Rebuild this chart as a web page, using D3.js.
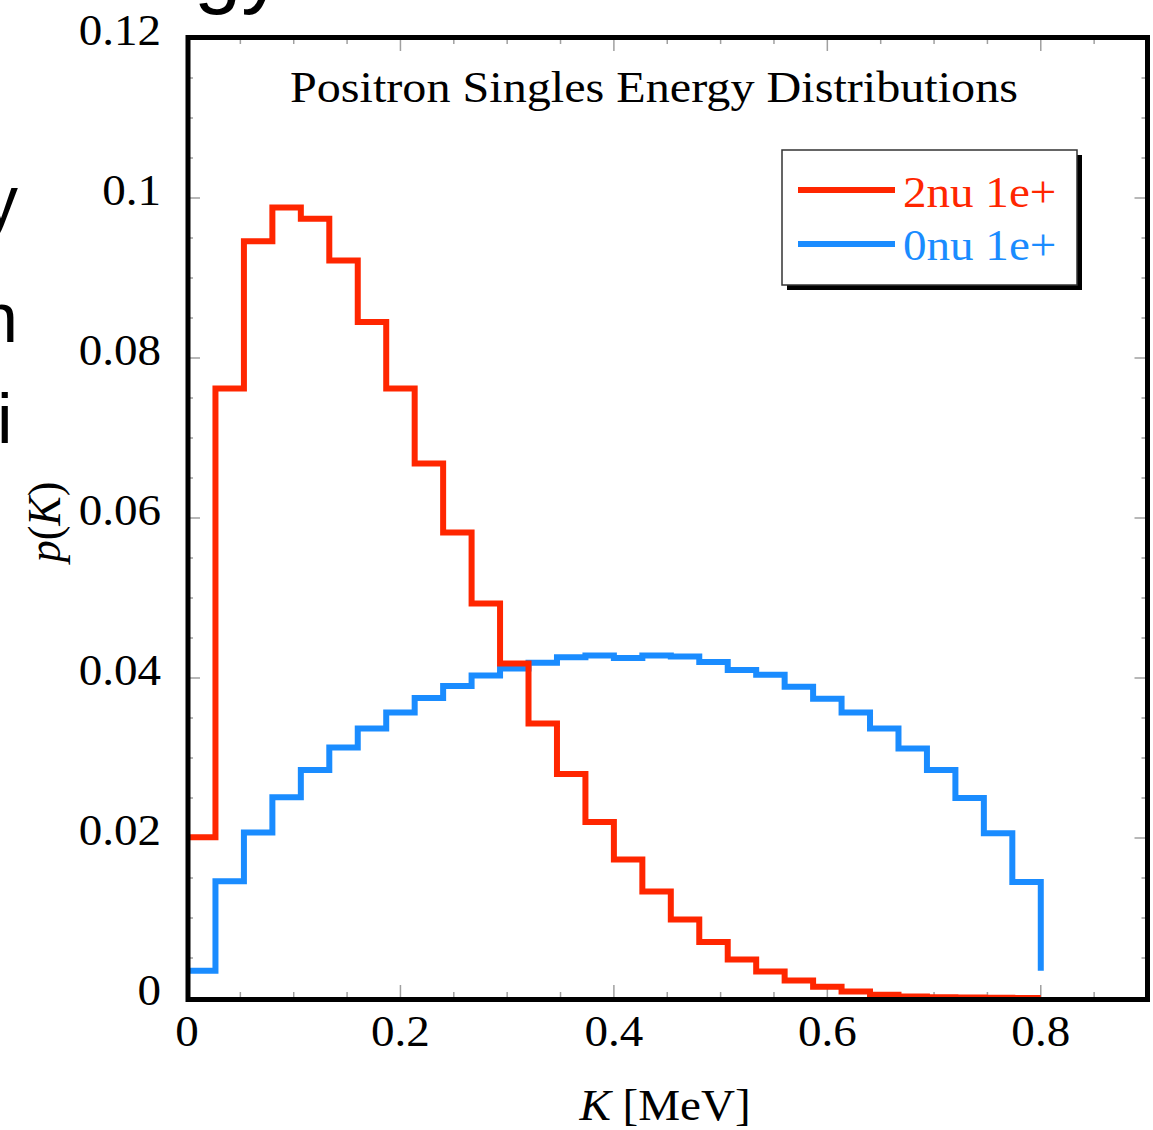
<!DOCTYPE html>
<html>
<head>
<meta charset="utf-8">
<script src="https://cdn.jsdelivr.net/npm/d3@7"></script>
<style>
  body { margin: 0; background: #fff; }
  svg { display: block; }
  .serif { font-family: "Liberation Serif", "Times New Roman", serif; }
</style>
</head>
<body>
<script>
// Positron singles energy histograms
var binCount = 30,
    kMax = 0.8;
// 2nu 1e+ , value per bin
var redValues = [0.0201, 0.0762, 0.0946, 0.0988, 0.0974, 0.0922, 0.0845, 0.0762, 0.0668, 0.0582,
                 0.0493, 0.0418, 0.0343, 0.0280, 0.0220, 0.0173, 0.0133, 0.0098, 0.0070, 0.0048,
                 0.0033, 0.0022, 0.0014, 0.0008, 0.0004, 0.0002, 0.0001, 0.00005, 0.00002, 0.0];
var redTail = 0.0;
// 0nu 1e+
var blueValues = [0.0034, 0.0146, 0.0207, 0.0251, 0.0285, 0.0313, 0.0337, 0.0357, 0.0375, 0.0390,
                  0.0403, 0.0412, 0.0419, 0.0426, 0.0428, 0.0425, 0.0428, 0.0427, 0.0420, 0.0410,
                  0.0404, 0.0389, 0.0374, 0.0357, 0.0337, 0.0312, 0.0285, 0.0250, 0.0206, 0.0145];
var blueTail = 0.0034;
var seriesNames = ["2nu 1e+", "0nu 1e+"];
var seriesColors = ["#ff2600", "#1a8cff"];
var xTickLabels = [0, 0.2, 0.4, 0.6, 0.8];
var yTickLabels = [0, 0.02, 0.04, 0.06, 0.08, 0.1, 0.12];

var width = 1153, height = 1130;
var stretch = 1.07; // the picture is a bit wider than tall

var svg = d3.select("body").append("svg")
  .attr("width", width)
  .attr("height", height);

var x = d3.scaleLinear().domain([0, 0.9]).range([187, 1147.5]);
var y = d3.scaleLinear().domain([0, 0.12]).range([998, 38]);

// clipped slide text around the figure
var frag = svg.append("g")
  .style("font-family", "'Liberation Sans', Arial, sans-serif")
  .attr("fill", "#000");
frag.append("text").attr("x", 194).attr("y", -3).style("font-size", "85px").text("gy");
frag.append("text").attr("x", -17).attr("y", 225).style("font-size", "70px").text("y");
frag.append("text").attr("x", -21).attr("y", 342).style("font-size", "70px").text("n");
frag.append("text").attr("x", -3).attr("y", 443).style("font-size", "70px").text("i");

// ticks (inside, on all four sides)
var ticks = svg.append("g").attr("stroke", "#a0a0a0").attr("stroke-width", 1.5);
var xMinor = d3.range(0, 0.9001, 0.05);
xMinor.forEach(function(v){
  var major = Math.abs(v / 0.2 - Math.round(v / 0.2)) < 1e-6;
  var len = major ? 13 : 6;
  ticks.append("line").attr("x1", x(v)).attr("x2", x(v)).attr("y1", y(0)).attr("y2", y(0) - len);
  ticks.append("line").attr("x1", x(v)).attr("x2", x(v)).attr("y1", y(0.12)).attr("y2", y(0.12) + len);
});
var yMinor = d3.range(0, 0.12001, 0.005);
yMinor.forEach(function(v){
  var major = Math.abs(v / 0.02 - Math.round(v / 0.02)) < 1e-6;
  var len = major ? 13 : 6;
  ticks.append("line").attr("y1", y(v)).attr("y2", y(v)).attr("x1", x(0)).attr("x2", x(0) + len);
  ticks.append("line").attr("y1", y(v)).attr("y2", y(v)).attr("x1", x(0.9)).attr("x2", x(0.9) - len);
});

// step histograms
var binWidth = kMax / binCount;
function stepPoints(values, tail){
  var pts = values.map(function(v, i){ return [i * binWidth, v]; });
  pts.push([kMax, tail]);
  return pts;
}
var line = d3.line()
  .x(function(d){ return x(d[0]); })
  .y(function(d){ return y(d[1]); })
  .curve(d3.curveStepAfter);

[[blueValues, blueTail, seriesColors[1]], [redValues, redTail, seriesColors[0]]].forEach(function(s){
  svg.append("path")
    .attr("d", line(stepPoints(s[0], s[1])))
    .attr("fill", "none")
    .attr("stroke", s[2])
    .attr("stroke-width", 6)
    .attr("stroke-linejoin", "miter");
});

// frame
svg.append("rect")
  .attr("x", 188).attr("y", 37.5)
  .attr("width", 1147.5 - 188).attr("height", 999.5 - 37.5)
  .attr("fill", "none")
  .attr("stroke", "#000")
  .attr("stroke-width", 5);

// tick labels
var labels = svg.append("g").attr("class", "serif").style("font-size", "44px").attr("fill", "#000");
xTickLabels.forEach(function(v){
  labels.append("text")
    .attr("transform", "translate(" + x(v) + ",1046) scale(" + stretch + ",1)")
    .attr("text-anchor", "middle")
    .text(d3.format("")(v));
});
yTickLabels.forEach(function(v){
  labels.append("text")
    .attr("transform", "translate(161," + (y(v) + 7) + ") scale(" + stretch + ",1)")
    .attr("text-anchor", "end")
    .text(d3.format("")(v));
});

// axis titles
var xt = labels.append("text")
  .attr("transform", "translate(665,1120) scale(" + stretch + ",1)")
  .attr("text-anchor", "middle");
xt.append("tspan").style("font-style", "italic").text("K");
xt.append("tspan").text(" [MeV]");

var yt = labels.append("text")
  .attr("transform", "translate(60,522) rotate(-90) scale(1," + stretch + ")")
  .attr("text-anchor", "middle");
yt.append("tspan").style("font-style", "italic").text("p");
yt.append("tspan").text("(");
yt.append("tspan").style("font-style", "italic").text("K");
yt.append("tspan").text(")");

// plot title
labels.append("text")
  .attr("transform", "translate(290,102) scale(" + stretch + ",1)")
  .style("font-size", "45px")
  .text("Positron Singles Energy Distributions");

// legend
var lg = svg.append("g");
lg.append("rect").attr("x", 787).attr("y", 155).attr("width", 295).attr("height", 135).attr("fill", "#000");
lg.append("rect").attr("x", 782).attr("y", 150).attr("width", 295).attr("height", 135)
  .attr("fill", "#fff").attr("stroke", "#333").attr("stroke-width", 1.5);
seriesNames.forEach(function(name, i){
  var ly = [190, 244][i];
  lg.append("line").attr("x1", 798).attr("x2", 895).attr("y1", ly).attr("y2", ly)
    .attr("stroke", seriesColors[i]).attr("stroke-width", 6);
  lg.append("text").attr("class", "serif")
    .attr("transform", "translate(903," + [207, 260][i] + ") scale(" + stretch + ",1)")
    .style("font-size", "44px")
    .attr("fill", seriesColors[i])
    .text(name);
});
</script>
</body>
</html>
